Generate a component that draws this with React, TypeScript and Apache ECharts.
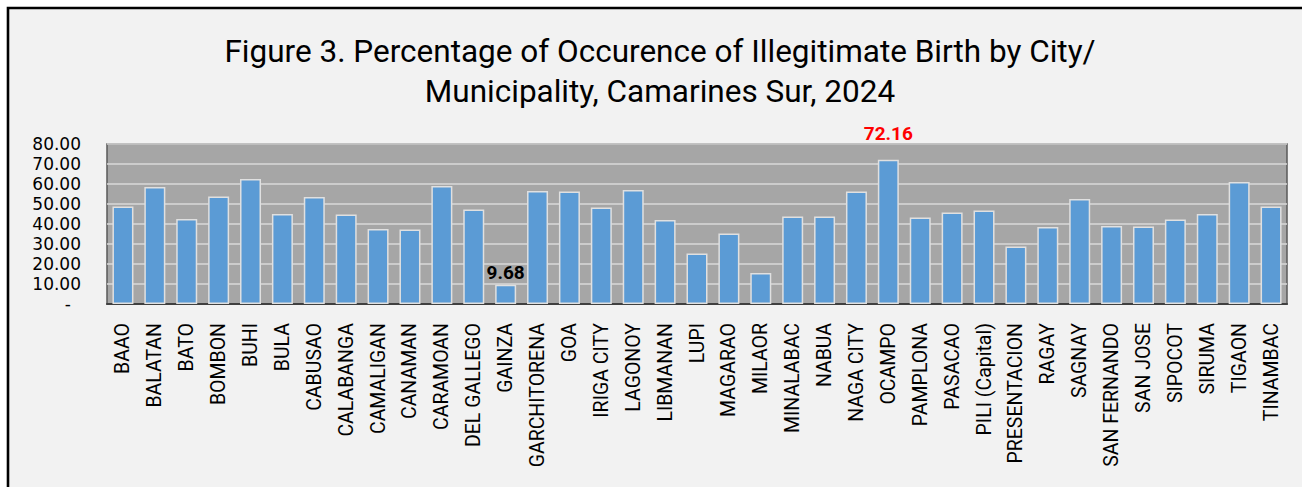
import React, { useEffect, useRef } from 'react';
import * as echarts from 'echarts';

const categories: string[] = [
  'BAAO', 'BALATAN', 'BATO', 'BOMBON', 'BUHI', 'BULA', 'CABUSAO', 'CALABANGA',
  'CAMALIGAN', 'CANAMAN', 'CARAMOAN', 'DEL GALLEGO', 'GAINZA', 'GARCHITORENA',
  'GOA', 'IRIGA CITY', 'LAGONOY', 'LIBMANAN', 'LUPI', 'MAGARAO', 'MILAOR',
  'MINALABAC', 'NABUA', 'NAGA CITY', 'OCAMPO', 'PAMPLONA', 'PASACAO',
  'PILI (Capital)', 'PRESENTACION', 'RAGAY', 'SAGNAY', 'SAN FERNANDO',
  'SAN JOSE', 'SIPOCOT', 'SIRUMA', 'TIGAON', 'TINAMBAC',
];

const values: number[] = [
  48.8, 58.5, 42.5, 53.8, 62.5, 45.0, 53.5, 44.7,
  37.5, 37.3, 59.0, 47.3, 9.68, 56.5,
  56.2, 48.2, 57.0, 42.0, 25.3, 35.3, 15.5,
  43.7, 43.8, 56.3, 72.16, 43.3, 45.8,
  46.8, 28.7, 38.5, 52.5, 39.0,
  38.8, 42.2, 45.0, 61.0, 48.8,
];

const titleLines: string[] = [
  'Figure 3. Percentage of Occurence of Illegitimate Birth by City/',
  'Municipality, Camarines Sur, 2024',
];

// categories whose value is printed above the bar
const labelledMin = 'GAINZA';
const labelledMax = 'OCAMPO';

const yMin = 0;
const yMax = 80;
const yInterval = 10;

export default function App() {
  const ref = useRef<HTMLDivElement>(null);

  useEffect(() => {
    if (!ref.current) return;
    const chart = echarts.init(ref.current, undefined, { renderer: 'svg' });

    const makeLabel = (color: string, distance: number) => ({
      show: true,
      position: 'top',
      distance,
      formatter: (p: any) => Number(p.value).toFixed(2),
      color,
      fontWeight: 'bold',
      fontSize: 19,
      fontFamily: 'Roboto',
    });

    const seriesData = values.map((v, i) => {
      const name = categories[i];
      if (name === labelledMin) return { value: v, label: makeLabel('#000000', 3) };
      if (name === labelledMax) return { value: v, label: makeLabel('#ff0000', 17) };
      return v;
    });

    chart.setOption({
      animation: false,
      backgroundColor: '#ffffff',
      graphic: [
        {
          type: 'rect',
          z: -10,
          shape: { x: 8, y: 8, width: 1400, height: 600 },
          style: { fill: '#f2f2f2', stroke: '#000000', lineWidth: 2.6 },
          silent: true,
        },
        {
          type: 'text',
          x: 660,
          y: 51,
          style: {
            text: titleLines[0],
            fontFamily: 'Roboto',
            fontSize: 31.5,
            fill: '#000000',
            align: 'center',
            verticalAlign: 'middle',
          },
        },
        {
          type: 'text',
          x: 660,
          y: 91,
          style: {
            text: titleLines[1],
            fontFamily: 'Roboto',
            fontSize: 31.5,
            fill: '#000000',
            align: 'center',
            verticalAlign: 'middle',
          },
        },
      ],
      grid: {
        left: 107,
        right: 15,
        top: 144,
        bottom: 183,
        show: true,
        backgroundColor: '#a6a6a6',
        borderColor: '#595959',
        borderWidth: 1.5,
        containLabel: false,
      },
      xAxis: {
        type: 'category',
        data: categories,
        axisLine: { show: true, lineStyle: { color: '#404040', width: 2 } },
        axisTick: { show: false },
        axisLabel: {
          rotate: 90,
          interval: 0,
          margin: 19,
          color: '#000000',
          fontFamily: 'Roboto',
          fontSize: 19.5,
        },
      },
      yAxis: {
        type: 'value',
        min: yMin,
        max: yMax,
        interval: yInterval,
        axisLine: { show: false },
        axisTick: { show: false },
        splitLine: { show: true, lineStyle: { color: '#d9d9d9', width: 1.5 } },
        axisLabel: {
          margin: 26,
          color: '#000000',
          fontFamily: 'DejaVu Sans',
          fontSize: 17,
          formatter: (v: number) => (v === 0 ? '{z|-}' : v.toFixed(2)),
          rich: {
            z: {
              color: '#000000',
              fontFamily: 'DejaVu Sans',
              fontSize: 17,
              padding: [0, 10, 0, 0],
            },
          },
        },
      },
      series: [
        {
          type: 'bar',
          data: seriesData,
          barWidth: 21,
          itemStyle: {
            color: '#5b9bd5',
            borderColor: '#e0e0e0',
            borderWidth: 1.5,
          },
        },
      ],
    });

    return () => {
      chart.dispose();
    };
  }, []);

  return (
    <div
      ref={ref}
      style={{ position: 'fixed', left: 0, top: 0, width: 1302, height: 487 }}
    />
  );
}
